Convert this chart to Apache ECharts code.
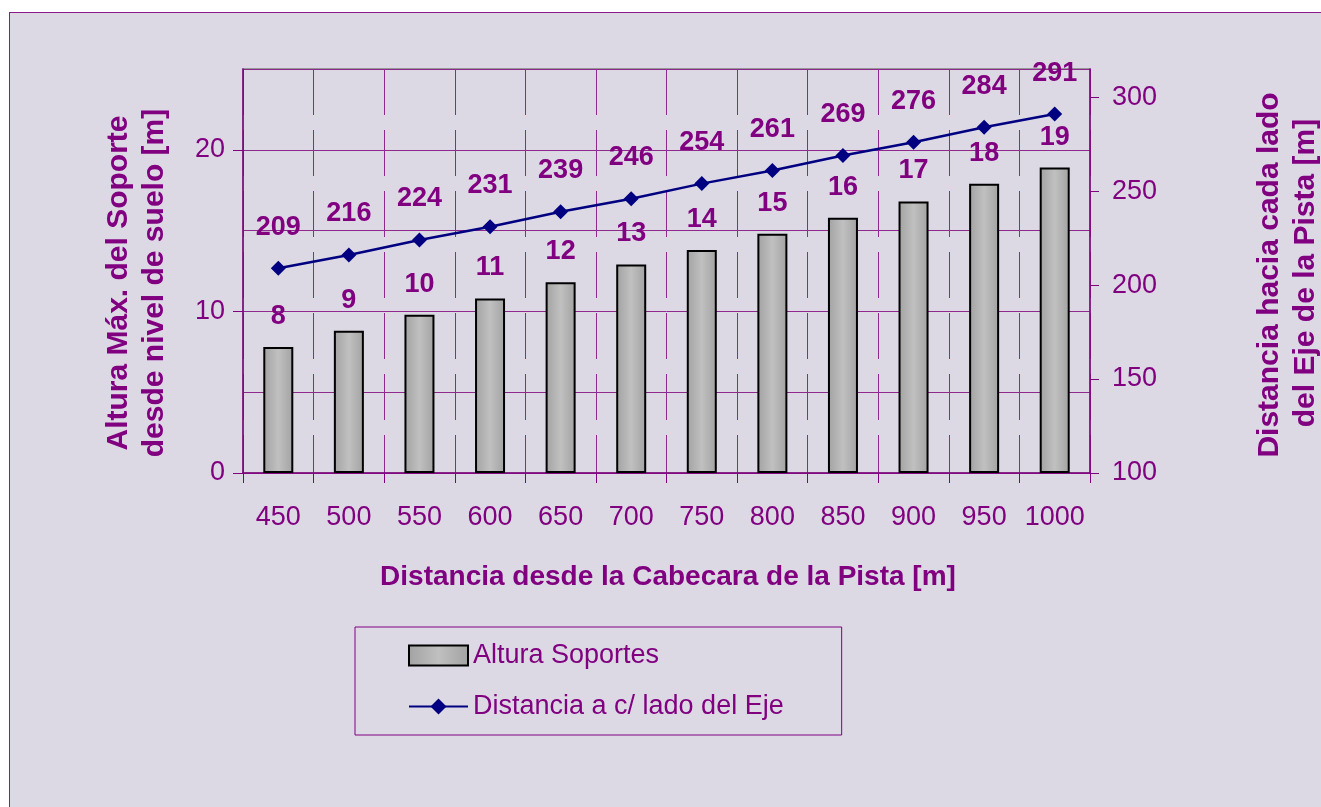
<!DOCTYPE html>
<html>
<head>
<meta charset="utf-8">
<script src="https://cdn.jsdelivr.net/npm/echarts@6/dist/echarts.min.js"></script>
<style>
html, body { margin: 0; padding: 0; background: #fff; overflow: hidden; }
#frame { position: absolute; left: 9px; top: 12px; width: 1400px; height: 900px;
         border: 1.5px solid #8b1a8b; background: #dcd8e4; }
#chart { position: absolute; left: 0; top: 0; width: 1321px; height: 807px; }
</style>
</head>
<body>
<div id="frame"></div>
<div id="chart"></div>
<script>
// datos
const categories = ['450', '500', '550', '600', '650', '700', '750', '800', '850', '900', '950', '1000'];
const alturaSoportes = [7.8, 8.8, 9.8, 10.8, 11.8, 12.9, 13.8, 14.8, 15.8, 16.8, 17.9, 18.9];
const distanciaEje = [209, 216, 224, 231, 239, 246, 254, 261, 269, 276, 284, 291];
const leftTicks = [0, 10, 20];
const rightTicks = [100, 150, 200, 250, 300];

const purple = '#800080';
const gridPurple = '#8e2a8e';
const font = "'Liberation Sans', Arial, sans-serif";

let myChart = echarts.init(document.getElementById('chart'), null, { renderer: 'canvas' });

let titleStyle = {
    fill: purple,
    font: 'bold 30px ' + font,
    textAlign: 'center',
    textVerticalAlign: 'middle'
};

let option = {
    animation: false,
    backgroundColor: 'transparent',
    textStyle: { fontFamily: font },
    grid: {
        left: 243,
        top: 69,
        width: 847,
        height: 404,
        show: true,
        borderColor: '#808080',
        borderWidth: 1.5,
        backgroundColor: 'transparent',
        outerBoundsMode: 'none'
    },
    legend: {
        orient: 'vertical',
        left: 355,
        top: 627,
        padding: [15, 58, 15, 53],
        itemGap: 24,
        itemWidth: 59,
        itemHeight: 20,
        borderColor: purple,
        borderWidth: 1,
        textStyle: { color: purple, fontSize: 27, fontFamily: font },
        data: [
            { name: 'Altura Soportes', icon: 'rect' },
            { name: 'Distancia a c/ lado del Eje' }
        ]
    },
    graphic: [
        { type: 'text', x: 119, y: 283, rotation: Math.PI / 2, style: Object.assign({ text: 'Altura Máx. del Soporte' }, titleStyle) },
        { type: 'text', x: 155, y: 283, rotation: Math.PI / 2, style: Object.assign({ text: 'desde nivel de suelo [m]' }, titleStyle) },
        { type: 'text', x: 1270, y: 275, rotation: Math.PI / 2, style: Object.assign({ text: 'Distancia hacia cada lado' }, titleStyle) },
        { type: 'text', x: 1306, y: 273, rotation: Math.PI / 2, style: Object.assign({ text: 'del Eje de la Pista [m]' }, titleStyle) },
        { type: 'text', x: 668, y: 577, style: Object.assign({ text: 'Distancia desde la Cabecara de la Pista [m]' }, titleStyle, { font: 'bold 28px ' + font }) }
    ],
    xAxis: {
        type: 'category',
        data: categories,
        boundaryGap: true,
        axisLine: { lineStyle: { color: purple, width: 1.5 } },
        axisTick: { show: true, interval: 0, length: 10, lineStyle: { color: purple } },
        axisLabel: { color: purple, fontSize: 27, margin: 31, interval: 0, fontFamily: font },
        splitLine: { show: true, interval: 0, lineStyle: { color: gridPurple, width: 1, type: [46, 15] } }
    },
    yAxis: [
        {
            type: 'value',
            min: 0,
            max: 25,
            interval: 5,
            axisLine: { show: true, lineStyle: { color: purple, width: 1.5 } },
            axisTick: { show: true, length: 10, customValues: leftTicks, lineStyle: { color: purple } },
            axisLabel: { color: purple, fontSize: 27, margin: 18, customValues: leftTicks, fontFamily: font },
            splitLine: { show: false }
        },
        {
            type: 'value',
            position: 'right',
            min: 100,
            max: 315,
            interval: 50,
            axisLine: { show: true, lineStyle: { color: purple, width: 1.5 } },
            axisTick: { show: true, length: 9, customValues: rightTicks, lineStyle: { color: purple } },
            axisLabel: { color: purple, fontSize: 27, margin: 22, customValues: rightTicks, fontFamily: font },
            splitLine: { show: false }
        },
        {
            // eje oculto solo para las lineas de division cada 5
            type: 'value',
            min: 0,
            max: 25,
            interval: 5,
            axisLine: { show: false },
            axisTick: { show: false },
            axisLabel: { show: false },
            splitLine: { show: true, lineStyle: { color: gridPurple, width: 1 } }
        }
    ],
    series: [
        {
            name: 'Altura Soportes',
            type: 'bar',
            yAxisIndex: 0,
            barWidth: 30,
            data: alturaSoportes,
            itemStyle: {
                color: new echarts.graphic.LinearGradient(0, 0, 1, 0, [
                    { offset: 0, color: '#a2a2a2' },
                    { offset: 0.5, color: '#c0c0c0' },
                    { offset: 1, color: '#a2a2a2' }
                ]),
                borderColor: '#000',
                borderWidth: 2
            },
            label: {
                show: true,
                position: 'top',
                distance: 17,
                color: purple,
                fontSize: 27,
                fontWeight: 'bold',
                fontFamily: font,
                formatter: (p) => Math.round(p.value)
            }
        },
        {
            name: 'Distancia a c/ lado del Eje',
            type: 'line',
            yAxisIndex: 1,
            z: 5,
            symbol: 'diamond',
            symbolSize: 15,
            data: distanciaEje,
            lineStyle: { color: '#000080', width: 2.5 },
            itemStyle: { color: '#000080' },
            label: {
                show: true,
                position: 'top',
                distance: 20,
                color: purple,
                fontSize: 27,
                fontWeight: 'bold',
                fontFamily: font
            }
        }
    ]
};
myChart.setOption(option);
</script>
</body>
</html>
